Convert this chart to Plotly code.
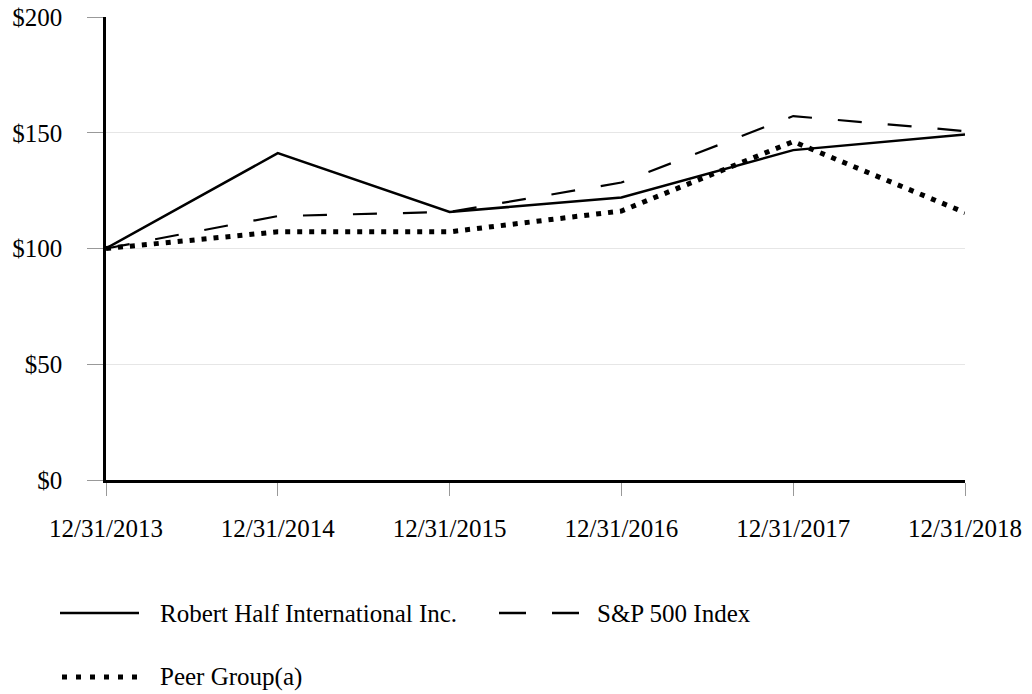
import plotly.graph_objects as go

dates = ["12/31/2013", "12/31/2014", "12/31/2015", "12/31/2016", "12/31/2017", "12/31/2018"]
robert_half = [100, 141.2, 115.8, 122.0, 142.5, 149.3]
sp500 = [100, 114.0, 115.8, 128.5, 157.2, 150.7]
peer_group = [100, 107.2, 107.2, 116.2, 146.2, 115.5]
y_ticks = [0, 50, 100, 150, 200]
y_labels = ["$0", "$50", "$100", "$150", "$200"]

FONT = "Liberation Serif, Times New Roman, serif"
W, H = 1032, 694
# plot area on screen: x 106..965, y 17..480
L, T = 106, 17
R = W - 965
B = H - 480
PW, PH = W - L - R, H - T - B

def px_x(p):
    return (p - L) / PW

def px_y(p):
    return (H - B - p) / PH

fig = go.Figure()
fig.add_trace(go.Scatter(x=dates, y=robert_half, mode="lines", name="Robert Half International Inc.",
                         line=dict(color="black", width=2.5)))
fig.add_trace(go.Scatter(x=dates, y=sp500, mode="lines", name="S&P 500 Index",
                         line=dict(color="black", width=2.2, dash="24px,26px")))
fig.add_trace(go.Scatter(x=dates, y=peer_group, mode="lines", name="Peer Group(a)",
                         line=dict(color="black", width=5, dash="5px,7px")))

# custom legend
legend_items = [
    dict(x0=60, x1=139, y=613, dash="solid", width=2.5, text="Robert Half International Inc.", tx=158),
    dict(x0=499, x1=579, y=613, dash="27px,26px", width=2.5, text="S&P 500 Index", tx=595),
    dict(x0=62, x1=138, y=677, dash="5px,9px", width=5, text="Peer Group(a)", tx=158),
]
for it in legend_items:
    fig.add_shape(type="line", xref="paper", yref="paper",
                  x0=px_x(it["x0"]), x1=px_x(it["x1"]), y0=px_y(it["y"]), y1=px_y(it["y"]),
                  line=dict(color="black", width=it["width"], dash=it["dash"]))
    fig.add_annotation(xref="paper", yref="paper", x=px_x(it["tx"]), y=px_y(it["y"]),
                       xanchor="left", yanchor="middle", text=it["text"], showarrow=False,
                       font=dict(family=FONT, size=25, color="black"))

fig.update_layout(
    width=W, height=H,
    margin=dict(l=L, r=R, t=T, b=B, autoexpand=False),
    paper_bgcolor="white", plot_bgcolor="white",
    showlegend=False,
    font=dict(family=FONT, size=25, color="black"),
)
fig.update_xaxes(
    type="category", range=[0, 5], automargin=False,
    showgrid=False, showline=True, linecolor="black", linewidth=2.5,
    ticks="outside", ticklen=13, tickcolor="#999999", tickwidth=1,
    tickfont=dict(family=FONT, size=25, color="black"),
    ticklabelstandoff=11, ticklabeloverflow="allow",
    zeroline=False,
)
fig.update_yaxes(
    range=[0, 200], tickvals=y_ticks, ticktext=y_labels, automargin=False,
    showgrid=True, gridcolor="#e6e6e6", gridwidth=1,
    showline=True, linecolor="black", linewidth=2.5,
    ticks="outside", ticklen=16, tickcolor="#999999", tickwidth=1,
    tickfont=dict(family=FONT, size=25, color="black"),
    ticklabelstandoff=20, ticklabeloverflow="allow",
    zeroline=False,
)

fig.write_html("out.html", config={"displayModeBar": False},
               post_script="document.body.style.margin='0';document.body.style.overflow='hidden';")
